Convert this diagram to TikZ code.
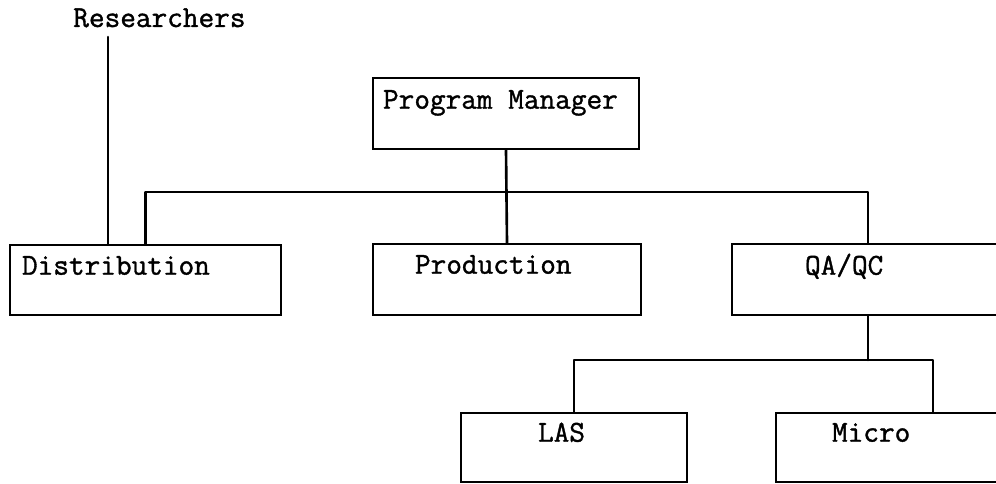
\documentclass[tikz,border=0pt]{standalone}
\usepackage{fontspec}
\newfontfamily\boxfont{Latin Modern Mono}[FakeBold=1.2]
\usetikzlibrary{positioning,calc}

\tikzset{
  unit/.style={draw,rectangle,inner sep=0pt,minimum height=1.42cm},
  lbl/.style={anchor=base west,inner sep=0pt,font=\boxfont\fontsize{17.3}{20}\selectfont},
  link/.style={line cap=round,line join=round}
}

\begin{document}
\begin{tikzpicture}[x=0.02cm,y=-0.02cm,line width=1.5pt]
  \useasboundingbox (0,0) rectangle (996,483);
  \clip (0,0) rectangle (996,483);
  % boxes
  \node[unit,minimum width=5.32cm] (pm) at (506,113.5) {};
  \node[unit,minimum width=5.42cm,minimum height=1.40cm] (dist) at (145.5,280) {};
  \node[unit,minimum width=5.36cm] (prod) at (507,279.5) {};
  \node[unit,minimum width=5.44cm] (qa) at (868,279.5) {};
  \node[unit,minimum width=4.52cm,minimum height=1.38cm] (las) at (574,447.5) {};
  \node[unit,minimum width=6.28cm,minimum height=1.38cm] (micro) at (933,447.5) {};
  % texts
  \node[lbl] (res) at (72,27) {Researchers};
  \node[lbl] (pmt) at ($(pm.north west)+(10,32)$) {Program Manager};
  \node[lbl] (distt) at ($(dist.north west)+(12,31)$) {Distribution};
  \node[lbl] (prodt) at ($(prod.north west)+(42,31)$) {Production};
  \node[lbl] (qat) at ($(qa.north west)+(73,32)$) {QA/QC};
  \node[lbl] (last) at ($(las.north west)+(77,30)$) {LAS};
  \node[lbl] (microt) at ($(micro.north west)+(56,30)$) {Micro};
  % connectors
  \coordinate (bus) at (0,192);
  \coordinate (subbus) at (0,360);
  \coordinate (rtop) at (108,37);
  \draw[link] (rtop) -- (rtop |- dist.north);
  \draw[link] (pm.south) -- (prod.north);
  \draw[link] (dist.north) -- (dist.north |- bus) -- (qa.north |- bus) -- (qa.north);
  \draw[link] (qa.south) -- (qa.south |- subbus);
  \draw[link] (las.north) -- (las.north |- subbus) -- (micro.north |- subbus) -- (micro.north);
\end{tikzpicture}
\end{document}
